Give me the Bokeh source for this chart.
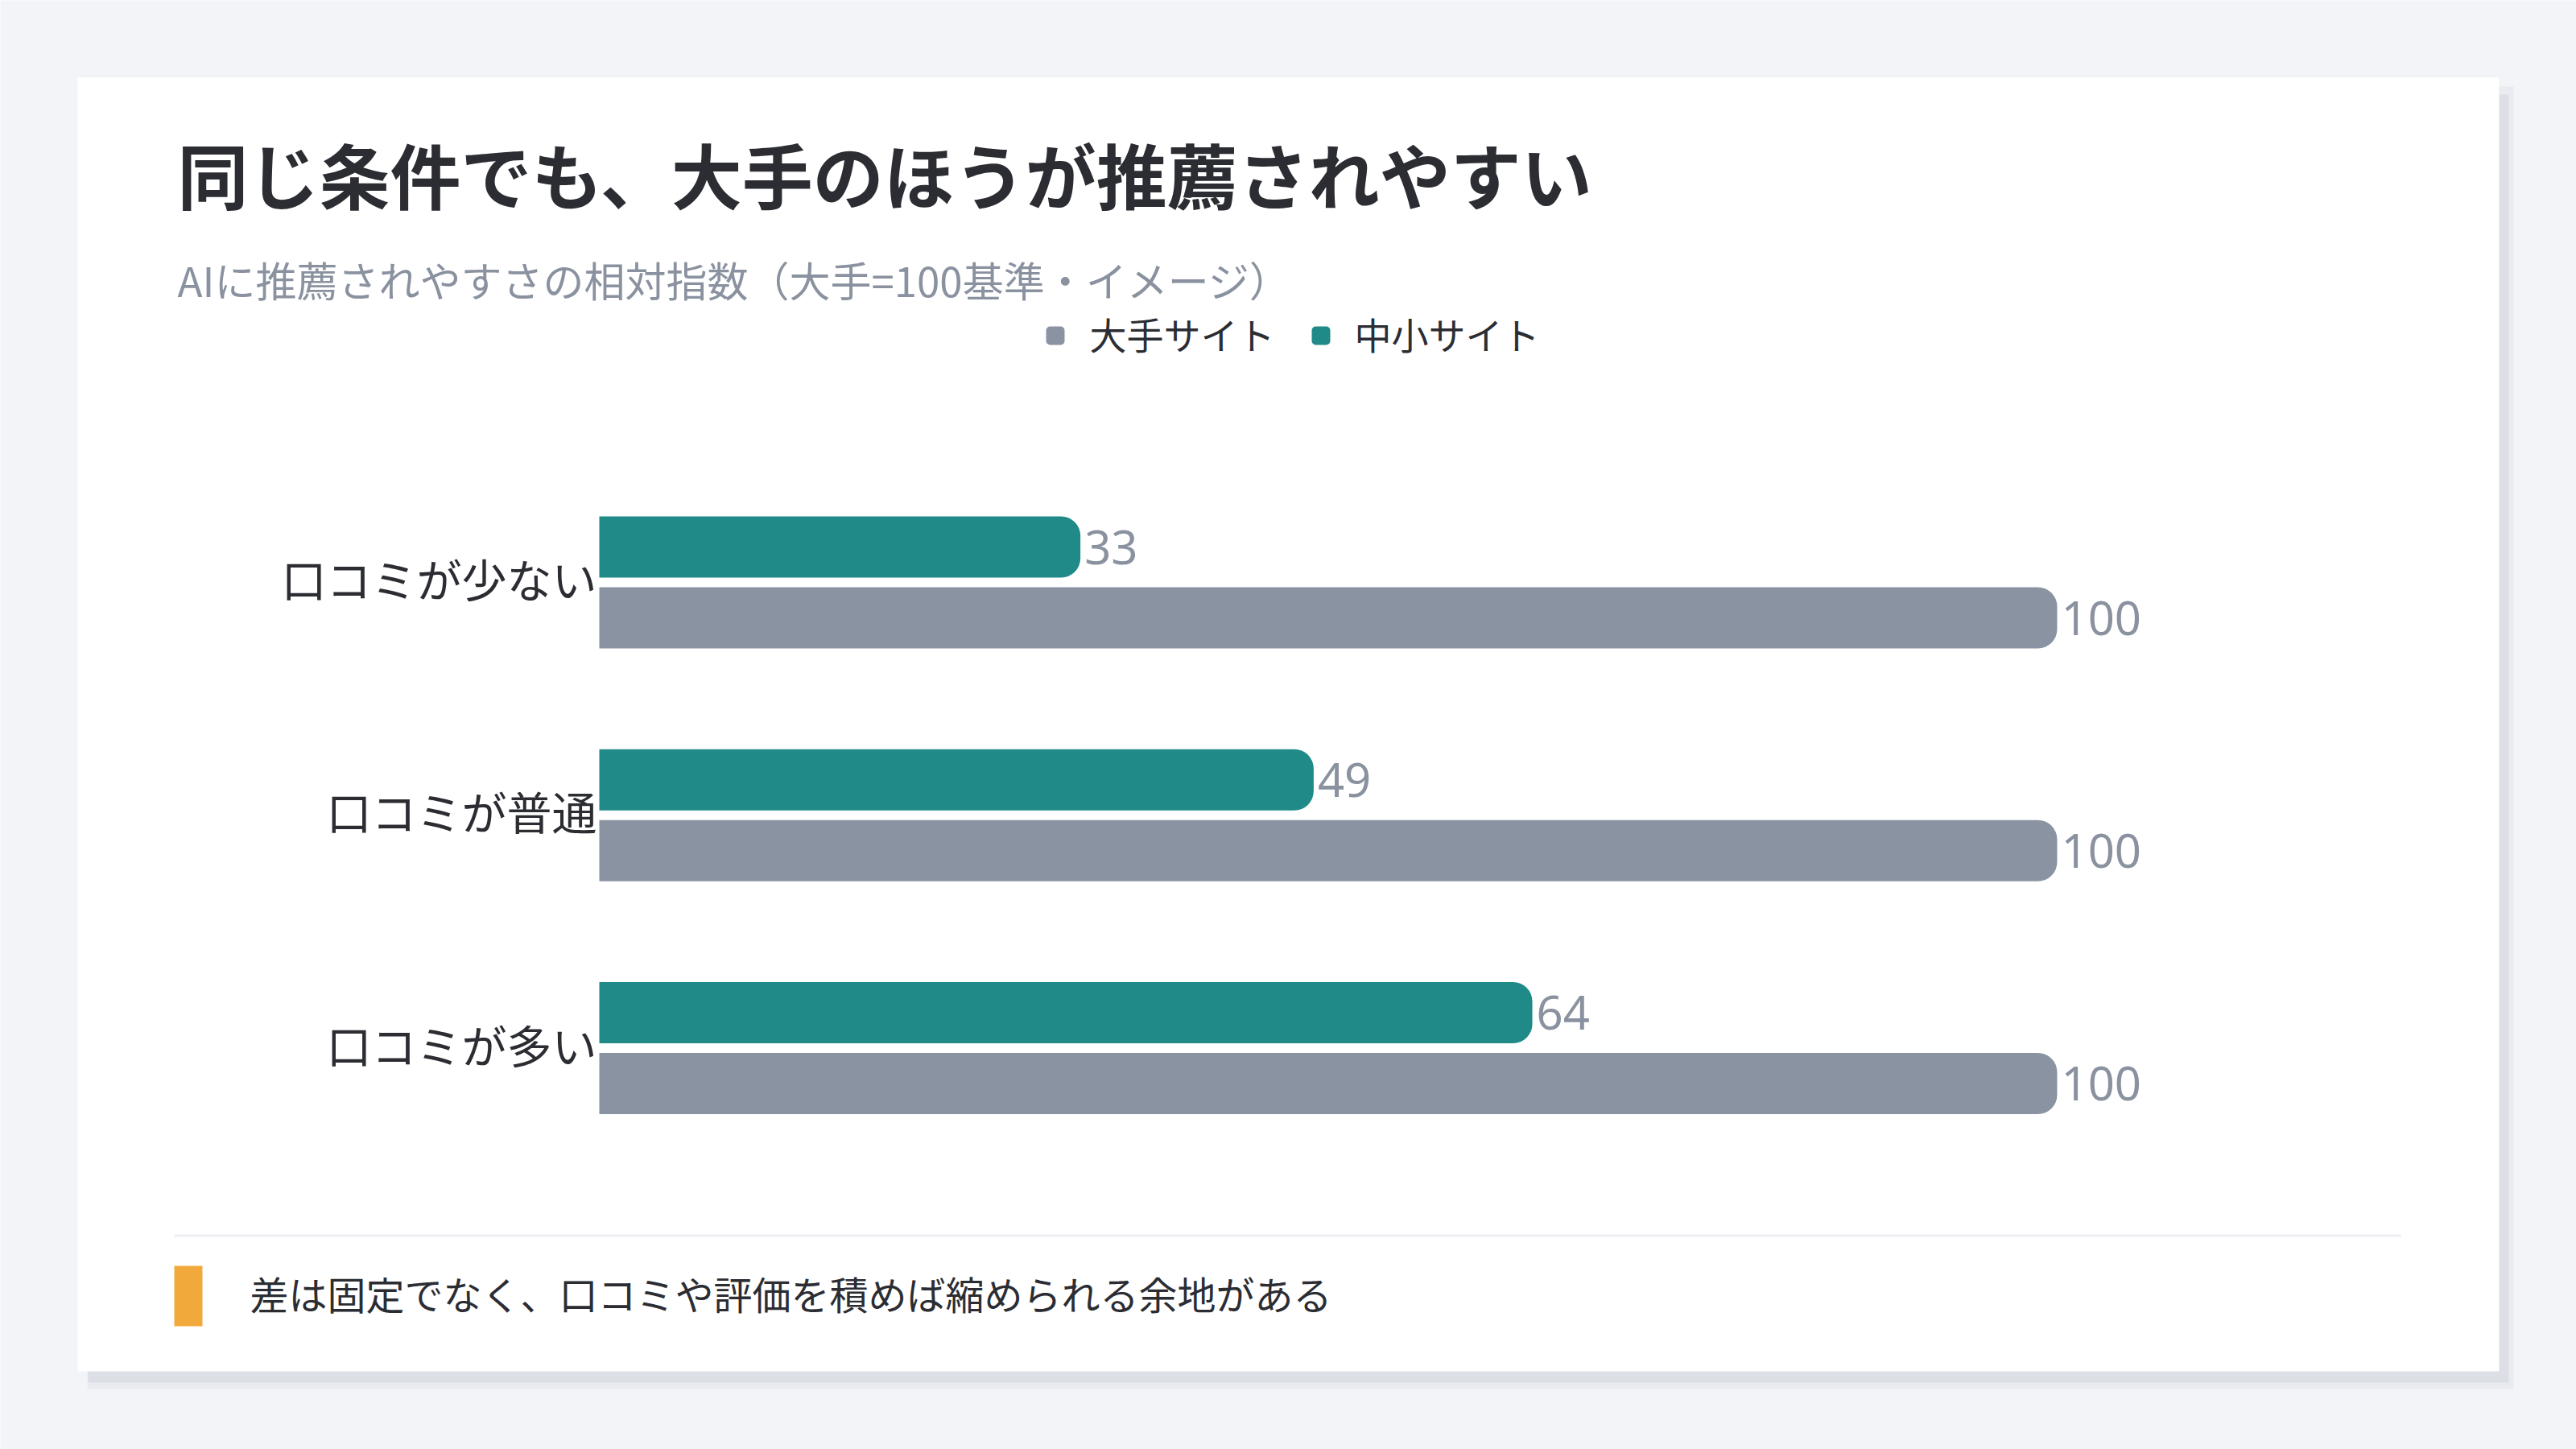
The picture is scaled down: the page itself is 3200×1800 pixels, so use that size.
from bokeh.plotting import figure
from bokeh.models import Range1d, ColumnDataSource
from bokeh.transform import dodge
from bokeh.core.properties import value
from bokeh.embed import file_html
from bokeh.resources import INLINE

# ---------------- data ----------------
categories = ["口コミが少ない", "口コミが普通", "口コミが多い"]
series_names = ["大手サイト", "中小サイト"]
major_values = [100, 100, 100]   # 大手サイト
small_values = [33, 49, 64]      # 中小サイト

title_text = "同じ条件でも、大手のほうが推薦されやすい"
subtitle_text = "AIに推薦されやすさの相対指数（大手=100基準・イメージ）"
note_text = "差は固定でなく、口コミや評価を積めば縮められる余地がある"

# ---------------- style ----------------
W, H = 3200, 1800
FONT = value("Noto Sans CJK JP")
NUM_FONT = value("Noto Sans")
BG = "#f3f4f8"
CARD = "#ffffff"
DARK = "#2b2d33"
MUTED = "#8a92a0"
GRAY = "#8a93a1"
TEAL = "#1f8a87"
ACCENT = "#f2a93b"
series_colors = [GRAY, TEAL]

# layout (pixels, from top-left)
BAR_LEFT_PX = 744
BAR_100_PX = 2555
PX_PER_UNIT = (BAR_100_PX - BAR_LEFT_PX) / 100.0
CAT0_PX = 723
CAT_PITCH = 289.25

p = figure(width=W, height=H, output_backend="svg", toolbar_location=None,
           x_range=Range1d(0, W), y_range=Range1d(H, 0),
           x_axis_location=None, y_axis_location=None, min_border=0,
           title=None, tools="")
p.outline_line_color = None
p.background_fill_color = BG
p.border_fill_color = BG
p.xgrid.visible = False
p.ygrid.visible = False

p.extra_x_ranges = {"val": Range1d(-BAR_LEFT_PX / PX_PER_UNIT, (W - BAR_LEFT_PX) / PX_PER_UNIT)}
p.extra_y_ranges = {"cat": Range1d((H - CAT0_PX) / CAT_PITCH, -CAT0_PX / CAT_PITCH)}

# ---------------- card with shadow ----------------
p.quad(left=[108], right=[3122], top=[107], bottom=[1725], fill_color="#e9ebef", line_color=None)
p.quad(left=[109], right=[3116], top=[117], bottom=[1717], fill_color="#dcdfe5", line_color=None)
p.quad(left=[96], right=[3104], top=[96], bottom=[1703], fill_color=CARD, line_color=None)

# ---------------- title / subtitle ----------------
p.text(x=[220], y=[214], text=[title_text], text_font=FONT, text_font_style="bold",
       text_font_size="88px", text_color=DARK, text_baseline="middle", text_align="left")
p.text(x=[220], y=[346], text=[subtitle_text], text_font=FONT,
       text_font_size="51px", text_color=MUTED, text_baseline="middle", text_align="left")

# ---------------- legend ----------------
leg_x = [1299, 1629]
leg_text_x = [1353, 1682]
for i, name in enumerate(series_names):
    p.quad(left=[leg_x[i]], right=[leg_x[i] + 23], top=[405], bottom=[428],
           fill_color=series_colors[i], line_color=None, border_radius=5)
    p.text(x=[leg_text_x[i]], y=[413], text=[name], text_font=FONT,
           text_font_size="46px", text_color=DARK, text_baseline="middle", text_align="left")

# ---------------- bars ----------------
src = ColumnDataSource(dict(
    idx=list(range(len(categories))),
    cat=categories,
    major=major_values,
    small=small_values,
    major_lbl=[str(v) for v in major_values],
    small_lbl=[str(v) for v in small_values],
))

BAR_H = 76 / CAT_PITCH
OFF = 44 / CAT_PITCH

p.hbar(y=dodge("idx", -OFF), left=0, right="small", height=BAR_H, source=src,
       fill_color=TEAL, line_color=None, border_radius=(0, 24, 24, 0),
       x_range_name="val", y_range_name="cat")
p.hbar(y=dodge("idx", OFF), left=0, right="major", height=BAR_H, source=src,
       fill_color=GRAY, line_color=None, border_radius=(0, 24, 24, 0),
       x_range_name="val", y_range_name="cat")

p.text(x="small", y=dodge("idx", -OFF), text="small_lbl", source=src, x_offset=5,
       text_font=NUM_FONT, text_font_size="58px", text_color=MUTED,
       text_baseline="middle", text_align="left", x_range_name="val", y_range_name="cat")
p.text(x="major", y=dodge("idx", OFF), text="major_lbl", source=src, x_offset=5,
       text_font=NUM_FONT, text_font_size="58px", text_color=MUTED,
       text_baseline="middle", text_align="left", x_range_name="val", y_range_name="cat")

# category labels
p.text(x=0, y="idx", text="cat", source=src, x_offset=-3, y_offset=-6,
       text_font=FONT, text_font_size="56px", text_color=DARK,
       text_baseline="middle", text_align="right", x_range_name="val", y_range_name="cat")

# ---------------- divider + note ----------------
p.quad(left=[216], right=[2982], top=[1533], bottom=[1536], fill_color="#eceef1", line_color=None)
p.quad(left=[216], right=[251], top=[1572], bottom=[1647], fill_color=ACCENT, line_color=None)
p.text(x=[310], y=[1605], text=[note_text], text_font=FONT,
       text_font_size="48px", text_color=DARK, text_baseline="middle", text_align="left")

open("out.html", "w").write(file_html(p, INLINE))
